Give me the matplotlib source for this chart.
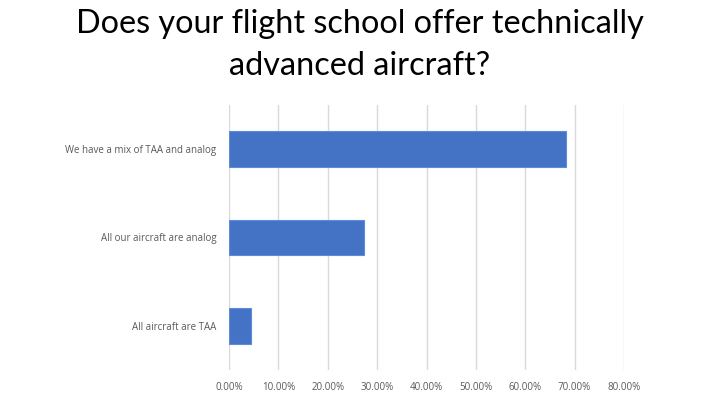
import matplotlib
matplotlib.use("Agg")
import matplotlib.pyplot as plt
from matplotlib.ticker import FuncFormatter, MultipleLocator

categories = ["We have a mix of TAA and analog", "All our aircraft are analog", "All aircraft are TAA"]
values = [68.18, 27.27, 4.55]
title_lines = ["Does your flight school offer technically", "advanced aircraft?"]

fig = plt.figure(figsize=(7.2, 4.05), dpi=100)
ax = fig.add_axes([229/720, 1-370/405, (624-229)/720, (370-105)/405])

ypos = list(range(len(categories)))[::-1]
ax.barh(ypos, values, height=0.4, color="#4472C4", edgecolor="#5B8BD9", linewidth=0.8, zorder=3)
ax.set_yticks(ypos)
ax.set_yticklabels(categories)
ax.set_ylim(-0.5, len(categories) - 0.5)
ax.set_xlim(0, 80)
ax.xaxis.set_major_locator(MultipleLocator(10))
ax.xaxis.set_major_formatter(FuncFormatter(lambda v, p: f"{v:.2f}%"))
ax.grid(axis="x", color="#D9D9D9", linewidth=1, zorder=0)
for s in ax.spines.values():
    s.set_visible(False)
ax.tick_params(axis="both", length=0, labelsize=7, labelcolor="#595959", pad=9)
for lab in ax.get_xticklabels() + ax.get_yticklabels():
    lab.set_family("Open Sans")

for i, line in enumerate(title_lines):
    fig.text(0.5, 1 - (33 + 42 * i) / 405, line, ha="center", va="baseline",
             fontsize=23.3, family="Lato", color="black")

fig.savefig("out.png", dpi=100)
